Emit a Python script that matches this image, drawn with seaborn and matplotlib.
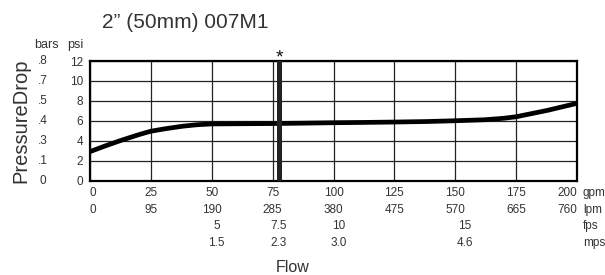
import matplotlib
matplotlib.use('Agg')
import matplotlib.pyplot as plt
import numpy as np
import pandas as pd
import seaborn as sns

# pressure drop curve (gpm, psi)
flow_gpm = [0, 6, 13, 20, 25, 31, 38, 44, 50, 62, 75, 88, 100, 112, 125, 138, 150, 162, 170, 175, 181, 188, 194, 200]
drop_psi = [2.9, 3.45, 4.05, 4.6, 4.95, 5.2, 5.45, 5.6, 5.68, 5.7, 5.72, 5.76, 5.8, 5.83, 5.87, 5.92, 6.0, 6.1, 6.25, 6.4, 6.7, 7.05, 7.4, 7.75]

gpm_ticks = [0, 25, 50, 75, 100, 125, 150, 175, 200]
lpm_labels = ['0', '95', '190', '285', '380', '475', '570', '665', '760']
fps_pos = [52, 77.6, 102, 154]
fps_labels = ['5', '7.5', '10', '15']
mps_labels = ['1.5', '2.3', '3.0', '4.6']
psi_ticks = [0, 2, 4, 6, 8, 10, 12]
bar_labels = ['0', '.1', '.3', '.4', '.5', '.7', '.8']
marker_gpm = 77.8

sns.set_style('white')
plt.rcParams['font.family'] = ['Liberation Sans', 'DejaVu Sans']

fig = plt.figure(figsize=(6.05, 2.75), dpi=100)
ax = fig.add_axes([90/605, 1-180.5/275, 487/605, 119.5/275])

df = pd.DataFrame({'gpm': flow_gpm, 'psi': drop_psi})
sns.lineplot(data=df, x='gpm', y='psi', ax=ax, color='black', linewidth=3.4, zorder=4)

ax.set_xlim(0, 200)
ax.set_ylim(0, 12)
ax.set_xticks(gpm_ticks)
ax.set_yticks(psi_ticks)
ax.grid(True, color='#222222', linewidth=0.9)
ax.set_axisbelow(True)
for s in ax.spines.values():
    s.set_visible(True)
    s.set_color('black')
    s.set_linewidth(1.6)
ax.tick_params(axis='x', length=0, labelbottom=False)
ax.tick_params(axis='y', length=0, pad=5, labelsize=8.5, labelcolor='#333333')
ax.set_xlabel('')
ax.set_ylabel('')

# marker line
ax.axvline(marker_gpm, color='#222222', linewidth=3.6, zorder=5)
ax.text(marker_gpm, 0.985, '*', transform=ax.get_xaxis_transform(), ha='center', va='baseline',
        fontsize=14, color='#111111')

# x labels rows
xt = ax.get_xaxis_transform()
tc = '#333333'
for i, (g, l) in enumerate(zip(gpm_ticks, lpm_labels)):
    ha = 'left' if i == 0 else ('right' if i == len(gpm_ticks) - 1 else 'center')
    ax.text(g, -0.105, str(g), transform=xt, ha=ha, va='center', fontsize=8.5, color=tc)
    ax.text(g, -0.243, l, transform=xt, ha=ha, va='center', fontsize=8.5, color=tc)
for p, f, m in zip(fps_pos, fps_labels, mps_labels):
    ax.text(p, -0.381, f, transform=xt, ha='center', va='center', fontsize=8.5, color=tc)
    ax.text(p, -0.519, m, transform=xt, ha='center', va='center', fontsize=8.5, color=tc)
for r, u in zip([-0.105, -0.243, -0.381, -0.519], ['gpm', 'lpm', 'fps', 'mps']):
    ax.text(1.012, r, u, transform=ax.transAxes, ha='left', va='center', fontsize=8.5, color=tc)

# bars labels
yt = ax.get_yaxis_transform()
for p, b in zip(psi_ticks, bar_labels):
    ax.text(-0.0975, p, b, transform=yt, ha='center', va='center', fontsize=8.5, color=tc)
fig.text(46/605, 1-45/275, 'bars', ha='center', va='center', fontsize=9, color=tc)
fig.text(83/605, 1-45/275, 'psi', ha='right', va='center', fontsize=9, color=tc)

fig.text(20.5/605, 1-120.5/275, 'PressureDrop', rotation=90, ha='center', va='center', fontsize=14.5, color='#333333')
fig.text(292.5/605, 1-267/275, 'Flow', ha='center', va='center', fontsize=11.5, color='#333333')
fig.text(102/605, 1-23/275, '2\u201d (50mm) 007M1', ha='left', va='center', fontsize=15, color='#333333')

fig.savefig('out.png', dpi=100)
